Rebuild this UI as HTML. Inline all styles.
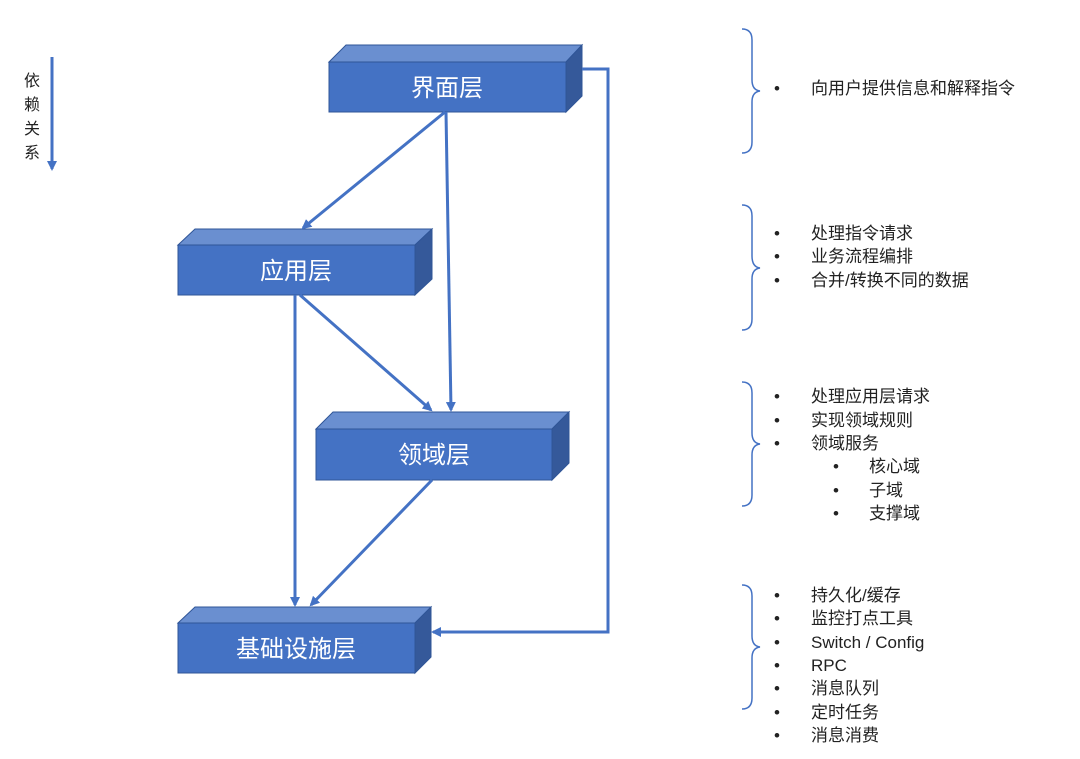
<!DOCTYPE html>
<html><head><meta charset="utf-8"><style>
body{margin:0;background:#fff}
svg{display:block}
text{font-family:"Liberation Sans","Noto Sans CJK SC",sans-serif}
</style></head><body>
<svg width="1080" height="759" viewBox="0 0 1080 759" xmlns="http://www.w3.org/2000/svg">
<defs>
<marker id="ah" markerWidth="10" markerHeight="10" refX="8" refY="5" orient="auto" markerUnits="userSpaceOnUse">
<path d="M0,0 L10,5 L0,10 z" fill="#4472C4"/>
</marker>
</defs>
<g stroke="#2F5597" stroke-width="1">
<!-- 界面层 -->
<polygon points="329,62 346,45 582,45 566,62" fill="#6A8FD0"/>
<polygon points="566,62 582,45 582,96 566,112" fill="#35599A"/>
<rect x="329" y="62" width="237" height="50" fill="#4472C4"/>
<!-- 应用层 -->
<polygon points="178,245 195,229 432,229 415,245" fill="#6A8FD0"/>
<polygon points="415,245 432,229 432,279 415,295" fill="#35599A"/>
<rect x="178" y="245" width="237" height="50" fill="#4472C4"/>
<!-- 领域层 -->
<polygon points="316,429 333,412 569,412 552,429" fill="#6A8FD0"/>
<polygon points="552,429 569,412 569,463 552,480" fill="#35599A"/>
<rect x="316" y="429" width="236" height="51" fill="#4472C4"/>
<!-- 基础设施层 -->
<polygon points="178,623 195,607 431,607 415,623" fill="#6A8FD0"/>
<polygon points="415,623 431,607 431,657 415,673" fill="#35599A"/>
<rect x="178" y="623" width="237" height="50" fill="#4472C4"/>
</g>
<g fill="#fff" font-size="24" text-anchor="middle">
<text x="447" y="96">界面层</text>
<text x="296" y="279">应用层</text>
<text x="434" y="463">领域层</text>
<text x="296" y="657">基础设施层</text>
</g>
<g stroke="#4472C4" stroke-width="3" fill="none" marker-end="url(#ah)">
<line x1="445" y1="112" x2="303" y2="228"/>
<line x1="446" y1="112" x2="451" y2="410"/>
<line x1="295" y1="295" x2="295" y2="605"/>
<line x1="300" y1="295" x2="431" y2="410"/>
<line x1="432" y1="480" x2="311" y2="605"/>
<polyline points="582,69 608,69 608,632 433,632"/>
<line x1="52" y1="57" x2="52" y2="169"/>
</g>
<g font-size="16" fill="#222" text-anchor="middle">
<text x="32" y="86">依</text>
<text x="32" y="110">赖</text>
<text x="32" y="134">关</text>
<text x="32" y="158">系</text>
</g>
<g stroke="#4472C4" stroke-width="1.5" fill="none">
<path d="M742,29 Q752,29 752,40 L752,80 Q752,90 760,91 Q752,92 752,102 L752,142 Q752,153 742,153"/>
<path d="M742,205 Q752,205 752,216 L752,256 Q752,267 760,268 Q752,269 752,279 L752,319 Q752,330 742,330"/>
<path d="M742,382 Q752,382 752,393 L752,433 Q752,443 760,444 Q752,445 752,455 L752,495 Q752,506 742,506"/>
<path d="M742,585 Q752,585 752,596 L752,636 Q752,646 760,647 Q752,648 752,658 L752,698 Q752,709 742,709"/>
</g>
<g font-size="17" fill="#222">
<text x="774" y="94">•</text><text x="811" y="94">向用户提供信息和解释指令</text>
<text x="774" y="239">•</text><text x="811" y="239">处理指令请求</text>
<text x="774" y="262">•</text><text x="811" y="262">业务流程编排</text>
<text x="774" y="286">•</text><text x="811" y="286">合并/转换不同的数据</text>
<text x="774" y="402">•</text><text x="811" y="402">处理应用层请求</text>
<text x="774" y="426">•</text><text x="811" y="426">实现领域规则</text>
<text x="774" y="449">•</text><text x="811" y="449">领域服务</text>
<text x="833" y="472">•</text><text x="869" y="472">核心域</text>
<text x="833" y="496">•</text><text x="869" y="496">子域</text>
<text x="833" y="519">•</text><text x="869" y="519">支撑域</text>
<text x="774" y="601">•</text><text x="811" y="601">持久化/缓存</text>
<text x="774" y="624">•</text><text x="811" y="624">监控打点工具</text>
<text x="774" y="648">•</text><text x="811" y="648">Switch / Config</text>
<text x="774" y="671">•</text><text x="811" y="671">RPC</text>
<text x="774" y="694">•</text><text x="811" y="694">消息队列</text>
<text x="774" y="718">•</text><text x="811" y="718">定时任务</text>
<text x="774" y="741">•</text><text x="811" y="741">消息消费</text>
</g>
</svg>
</body></html>
